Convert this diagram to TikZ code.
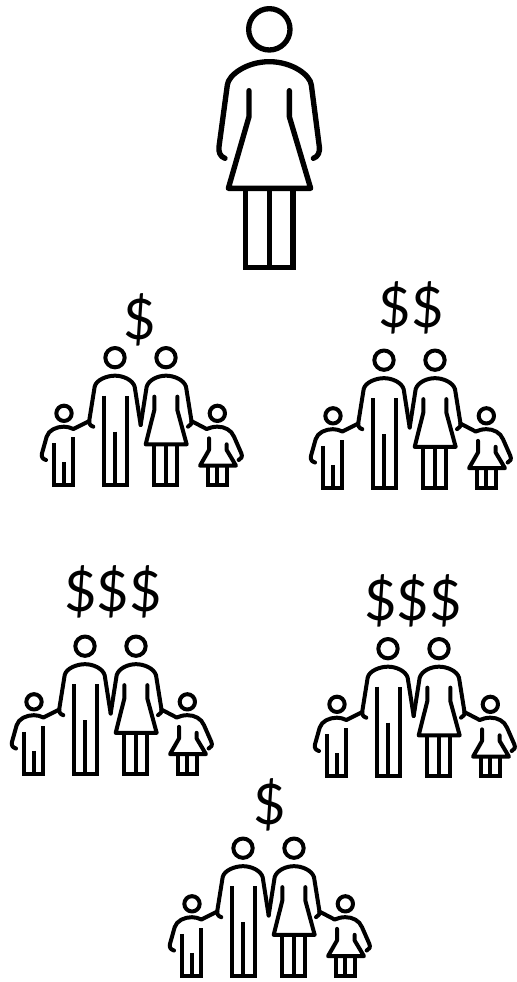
\documentclass[tikz,border=0pt]{standalone}
\usepackage{fontspec}
\setmainfont{Lato}
\usepackage{tikz}
\usetikzlibrary{positioning, calc}

\tikzset{
  line/.style={draw=black, line width=#1, line cap=round, line join=round},
  legs/.style={draw=black, line width=#1, line cap=butt, line join=miter},
  money/.style={inner sep=0pt, font=\fontsize{42}{42}\selectfont},
  pics/woman/.style={code={
    \begin{scope}[x=0.25pt, y=-0.25pt]
      \draw[line=4pt] (208,88) circle (62);
      \draw[line=4pt] (75,475) .. controls (60,470) and (55,455) .. (57,440)
        -- (82,255) .. controls (85,225) and (140,185) .. (208,185)
        .. controls (276,185) and (331,225) .. (334,255)
        -- (358,440) .. controls (360,455) and (355,470) .. (340,475);
      \draw[line=4pt] (147,272) -- (147,350) -- (85,565) -- (332,565) -- (268,350) -- (268,272);
      \draw[legs=4pt] (137,565) -- (137,802) -- (279,802) -- (279,565);
      \draw[legs=4pt] (208,565) -- (208,802);
    \end{scope}
  }},
  pics/family/.style={code={
    \begin{scope}[x=0.25pt, y=-0.25pt]
      % father
      \draw[line=3pt] (255,218) circle (29);
      \draw[line=3pt] (190,425) .. controls (180,422) and (176,415) .. (178,405)
        -- (194,305) .. controls (198,285) and (230,272) .. (255,272)
        .. controls (280,272) and (308,285) .. (314,305) -- (332,420);
      \draw[legs=3pt] (222,332) -- (222,600) -- (290,600) -- (290,332);
      \draw[legs=3pt] (255,440) -- (255,600);
      % mother
      \draw[line=3pt] (408,218) circle (29);
      \draw[line=3pt] (332,420) -- (350,305) .. controls (356,285) and (383,272) .. (408,272)
        .. controls (433,272) and (462,285) .. (468,305)
        -- (484,405) .. controls (486,415) and (482,422) .. (474,425);
      \draw[line=3pt] (373,335) -- (373,375) -- (347,478) -- (470,478) -- (442,375) -- (442,335);
      \draw[legs=3pt] (373,478) -- (373,600) -- (442,600) -- (442,478);
      \draw[legs=3pt] (408,478) -- (408,600);
      % son
      \draw[line=3pt] (102,385) circle (23);
      \draw[line=3pt] (48,525) .. controls (38,522) and (33,515) .. (36,505)
        -- (50,455) .. controls (56,435) and (80,425) .. (102,425)
        .. controls (112,425) and (122,428) .. (130,432) -- (178,408);
      \draw[legs=3pt] (73,475) -- (73,600) -- (130,600) -- (130,457);
      \draw[legs=3pt] (101,532) -- (101,600);
      % daughter
      \draw[line=3pt] (562,385) circle (23);
      \draw[line=3pt] (484,408) -- (530,432) .. controls (540,428) and (550,425) .. (562,425)
        .. controls (584,425) and (604,435) .. (612,455)
        -- (634,505) .. controls (638,515) and (634,522) .. (626,525);
      \draw[line=3pt] (537,460) -- (537,495) -- (510,542) -- (618,542) -- (590,495) -- (590,478);
      \draw[legs=3pt] (533,542) -- (533,600) -- (590,600) -- (590,542);
      \draw[legs=3pt] (562,542) -- (562,600);
    \end{scope}
  }},
}

\begin{document}
\begin{tikzpicture}[x=0.75pt, y=-0.75pt]
  \useasboundingbox (0,0) rectangle (517,982);

  \pic at (200,0) {woman};

  \pic at (30,285) {family};
  \pic at (299,287.5) {family};
  \pic at (0,573.5) {family};
  \pic at (303,576) {family};
  \pic at (158,775.5) {family};

  \node[money] (moneyA) at (140,320) {\$};
  \node[money] (moneyB) at (411,308) {\$\$};
  \node[money] (moneyC) at (113,592) {\$\$\$};
  \node[money] (moneyD) at (413,601) {\$\$\$};
  \node[money] (moneyE) at (270,805) {\$};
\end{tikzpicture}
\end{document}
